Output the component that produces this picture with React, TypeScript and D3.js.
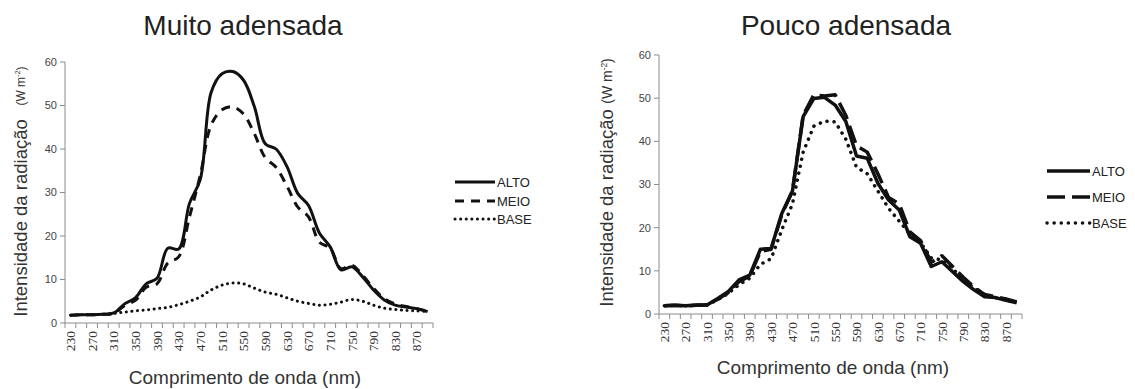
import React from "react";
import * as d3 from "d3";

const wavelengths = [230, 250, 270, 290, 310, 330, 350, 370, 390, 410, 430, 450, 470, 490, 510, 530, 550, 570, 590, 610, 630, 650, 670, 690, 710, 730, 750, 770, 790, 810, 830, 850, 870, 890];
const xTickLabels = [230, 270, 310, 350, 390, 430, 470, 510, 550, 590, 630, 670, 710, 750, 790, 830, 870];
const yTicks = [0, 10, 20, 30, 40, 50, 60];
const seriesNames = ["ALTO", "MEIO", "BASE"];

const muitoAlto = [1.8, 1.9, 1.9, 2.0, 2.3, 4.4, 5.8, 9.0, 10.3, 17.2, 17.0, 27.5, 33.0, 53.0, 57.3, 57.8, 55.8, 49.7, 41.2, 40.0, 36.0, 29.8, 27.0, 20.7, 17.5, 12.2, 12.9, 10.6, 7.6, 5.3, 4.1, 3.7, 3.3, 2.6];
const muitoMeio = [1.8, 1.9, 1.9, 2.0, 2.2, 4.0, 5.2, 8.2, 9.0, 13.8, 15.2, 24.4, 34.0, 45.5, 49.0, 49.7, 48.0, 43.5, 38.0, 35.8, 31.5, 26.7, 24.4, 18.6, 17.2, 12.5, 13.3, 11.0, 8.0, 5.6, 4.4, 3.8, 3.3, 2.7];
const muitoBase = [1.8, 1.9, 1.9, 2.0, 2.2, 2.5, 2.8, 3.0, 3.3, 3.6, 4.2, 5.0, 6.0, 7.6, 8.7, 9.2, 9.0, 8.0, 7.1, 6.6, 5.8, 5.0, 4.5, 4.1, 4.3, 4.8, 5.4, 5.0, 4.1, 3.4, 3.1, 2.9, 2.8, 2.6];

const poucoAlto = [1.9, 2.0, 1.9, 2.1, 2.1, 3.6, 5.2, 7.9, 9.0, 15.0, 15.2, 23.3, 28.5, 45.7, 49.9, 50.2, 48.4, 44.6, 36.6, 36.1, 30.3, 26.4, 24.1, 17.9, 16.4, 11.0, 12.1, 9.8, 7.5, 5.6, 4.0, 3.8, 3.2, 2.6];
const poucoMeio = [1.9, 2.0, 1.9, 2.0, 2.1, 3.4, 5.0, 7.5, 8.8, 14.5, 15.0, 23.0, 28.5, 46.0, 50.8, 50.5, 50.8, 46.0, 39.0, 37.5, 32.5, 27.0, 25.5, 19.0, 17.0, 12.0, 13.5, 11.0, 8.5, 6.3, 4.5, 4.0, 3.5, 2.8];
const poucoBase = [1.9, 2.0, 1.9, 2.0, 2.1, 3.3, 4.8, 6.8, 8.3, 11.5, 12.8, 19.5, 25.5, 37.5, 43.5, 44.7, 44.5, 40.5, 34.0, 32.5, 28.5, 24.5, 21.5, 18.5, 16.5, 13.0, 12.5, 10.5, 8.0, 6.0, 4.5, 3.8, 3.2, 2.7];

type Cfg = {
  title: string;
  titleX: number;
  x0: number;
  x1: number;
  yTop: number;
  yBot: number;
  series: number[][];
  smooth: boolean;
  dashes: string[];
  widths: number[];
  legendX0: number;
  legendX1: number;
  legendYs: number[];
  ylabX: number;
  ylabY: number;
  unitX: number;
  unitY: number;
  unitSize: number;
  xTitleX: number;
  xTitleY: number;
};

function Panel({ c }: { c: Cfg }) {
  const x = d3.scaleBand<number>().domain(wavelengths).range([c.x0, c.x1]).paddingInner(0).paddingOuter(0);
  const y = d3.scaleLinear().domain([0, 60]).range([c.yBot, c.yTop]);
  const cx = (w: number) => (x(w) as number) + x.bandwidth() / 2;
  const line = d3
    .line<number>()
    .x((_, i) => cx(wavelengths[i]))
    .y((v) => y(v))
    .curve(c.smooth ? d3.curveCatmullRom.alpha(0.5) : d3.curveLinear);
  const boundaries = wavelengths.map((w) => x(w) as number).concat([c.x1]);
  const axisColor = "#8c8c8c";
  return (
    <g>
      <text x={c.titleX} y={35} textAnchor="middle" fontFamily="Liberation Sans, Arial, sans-serif" fontSize={28} fill="#222">
        {c.title}
      </text>
      <line x1={c.x0} x2={c.x0} y1={c.yTop} y2={c.yBot} stroke={axisColor} strokeWidth={1} />
      {yTicks.map((t) => (
        <g key={t}>
          <line x1={c.x0 - 5} x2={c.x0} y1={y(t)} y2={y(t)} stroke={axisColor} strokeWidth={1} />
          <text x={c.x0 - 8} y={y(t)} dy="0.35em" textAnchor="end" fontFamily="Liberation Sans, Arial, sans-serif" fontSize={11} fill="#444">
            {t}
          </text>
        </g>
      ))}
      <line x1={c.x0} x2={c.x1} y1={c.yBot} y2={c.yBot} stroke={axisColor} strokeWidth={1} />
      {boundaries.map((b, i) => (
        <line key={i} x1={b} x2={b} y1={c.yBot} y2={c.yBot + 5} stroke={axisColor} strokeWidth={1} />
      ))}
      {xTickLabels.map((w) => (
        <text
          key={w}
          transform={`translate(${cx(w)},${c.yBot + 8}) rotate(-90)`}
          textAnchor="end"
          dy="0.35em"
          fontFamily="Liberation Serif, DejaVu Serif, serif"
          fontSize={13.5}
          fill="#333"
        >
          {w}
        </text>
      ))}
      {c.series.map((s, i) => (
        <path
          key={i}
          d={line(s) || ""}
          fill="none"
          stroke="#111"
          strokeWidth={c.widths[i]}
          strokeDasharray={c.dashes[i]}
          strokeLinecap={i === 2 ? "round" : "butt"}
          strokeLinejoin="round"
        />
      ))}
      {seriesNames.map((n, i) => (
        <g key={n}>
          <line
            x1={c.legendX0}
            x2={c.legendX1}
            y1={c.legendYs[i]}
            y2={c.legendYs[i]}
            stroke="#111"
            strokeWidth={c.widths[i]}
            strokeDasharray={c.dashes[i]}
            strokeLinecap={i === 2 ? "round" : "butt"}
          />
          <text x={c.legendX1 + 2} y={c.legendYs[i]} dy="0.35em" fontFamily="Liberation Sans, Arial, sans-serif" fontSize={13} fill="#222">
            {n}
          </text>
        </g>
      ))}
      <text
        transform={`translate(${c.ylabX},${c.ylabY}) rotate(-90)`}
        textAnchor="middle"
        fontFamily="Liberation Sans, Arial, sans-serif"
        fontSize={18.5}
        fill="#333"
      >
        Intensidade da radiação
      </text>
      <text
        transform={`translate(${c.unitX},${c.unitY}) rotate(-90)`}
        textAnchor="middle"
        fontFamily="Liberation Sans, Arial, sans-serif"
        fontSize={c.unitSize}
        fill="#333"
      >
        (W m<tspan dy={-5} fontSize={c.unitSize * 0.6}>-2</tspan>
        <tspan dy={5}>)</tspan>
      </text>
      <text x={c.xTitleX} y={c.xTitleY} textAnchor="middle" fontFamily="Liberation Sans, Arial, sans-serif" fontSize={19} fill="#333">
        Comprimento de onda (nm)
      </text>
    </g>
  );
}

const left: Cfg = {
  title: "Muito adensada",
  titleX: 243,
  x0: 65,
  x1: 433,
  yTop: 62,
  yBot: 323,
  series: [muitoAlto, muitoMeio, muitoBase],
  smooth: true,
  dashes: ["none", "9 7", "0.1 5.5"],
  widths: [3, 3, 3],
  legendX0: 455,
  legendX1: 495,
  legendYs: [182, 201, 219],
  ylabX: 27,
  ylabY: 218,
  unitX: 25,
  unitY: 86,
  unitSize: 12,
  xTitleX: 245,
  xTitleY: 384,
};

const right: Cfg = {
  title: "Pouco adensada",
  titleX: 846,
  x0: 659,
  x1: 1022,
  yTop: 55,
  yBot: 314,
  series: [poucoAlto, poucoMeio, poucoBase],
  smooth: false,
  dashes: ["none", "18 7", "0.1 7"],
  widths: [3.5, 3.5, 3.5],
  legendX0: 1047,
  legendX1: 1090,
  legendYs: [171, 197, 223],
  ylabX: 613,
  ylabY: 208,
  unitX: 612,
  unitY: 81,
  unitSize: 14,
  xTitleX: 833,
  xTitleY: 374,
};

export default function App() {
  return (
    <svg width={1135} height={389} style={{ position: "absolute", left: 0, top: 0, background: "#fff" }}>
      <rect x={0} y={0} width={1135} height={389} fill="#fff" />
      <Panel c={left} />
      <Panel c={right} />
    </svg>
  );
}
